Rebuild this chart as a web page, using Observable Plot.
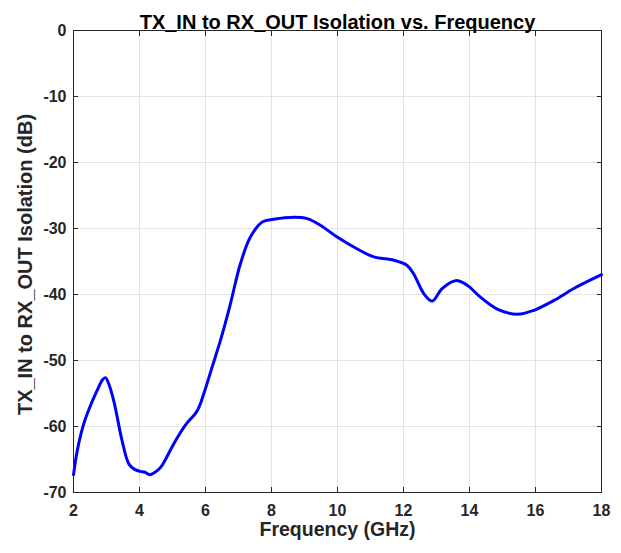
<!DOCTYPE html>
<html>
<head>
<meta charset="utf-8">
<script src="https://cdn.jsdelivr.net/npm/d3@7"></script>
<script src="https://cdn.jsdelivr.net/npm/@observablehq/plot@0.6"></script>
<style>
  html, body { margin: 0; padding: 0; background: #fff; }
  #chart svg { display: block; }
</style>
</head>
<body>
<div id="chart"></div>
<script>
// Measured isolation between TX_IN and RX_OUT ports
const freqGHz = [2.0, 2.12, 2.31, 2.5, 2.72, 2.88, 2.97, 3.05, 3.22, 3.47, 3.68, 3.85, 4.03, 4.15, 4.31, 4.45, 4.64, 5.04, 5.39, 5.75, 5.95, 6.2, 6.45, 6.73, 7.06, 7.36, 7.72, 8.07, 8.68, 9.08, 9.48, 9.99, 10.6, 11.1, 11.71, 12.11, 12.31, 12.62, 12.87, 13.17, 13.58, 13.93, 14.33, 14.84, 15.45, 15.95, 16.56, 17.16, 18.0];
const isolationDb = [-67.3, -63.5, -59.6, -57.0, -54.5, -52.9, -52.6, -53.3, -56.1, -62.1, -65.7, -66.5, -66.8, -66.9, -67.3, -67.0, -66.2, -62.6, -59.8, -57.6, -55.0, -51.0, -47.0, -41.9, -35.3, -31.3, -29.0, -28.6, -28.3, -28.5, -29.5, -31.3, -33.1, -34.3, -34.8, -35.6, -36.9, -39.9, -41.0, -39.1, -37.9, -38.6, -40.4, -42.2, -43.0, -42.4, -40.9, -39.1, -37.0];

const xTicks = [2, 4, 6, 8, 10, 12, 14, 16, 18];
const yTicks = [0, -10, -20, -30, -40, -50, -60, -70];

const chartTitle = "TX_IN to RX_OUT Isolation vs. Frequency";
const xLabel = "Frequency (GHz)";
const yLabel = "TX_IN to RX_OUT Isolation (dB)";

const rows = freqGHz.map((f, i) => ({f, v: isolationDb[i]}));

const axisColor = "#262626";
const font = "'Liberation Sans', Arial, Helvetica, sans-serif";
const noLabel = () => "";
const plainNumber = (d) => String(d); // hyphen-minus, as in the tick labels

const plot = Plot.plot({
  width: 621,
  height: 553,
  marginLeft: 73,
  marginRight: 20,
  marginTop: 30,
  marginBottom: 61,
  style: {fontFamily: font, fontSize: "16px", fontWeight: "bold", color: axisColor, background: "#fff"},
  x: {domain: [2, 18], ticks: xTicks, label: null},
  y: {domain: [-70, 0], ticks: yTicks, label: null},
  marks: [
    Plot.gridX(xTicks, {stroke: "#e3e3e3", strokeOpacity: 1}),
    Plot.gridY(yTicks, {stroke: "#e3e3e3", strokeOpacity: 1}),
    Plot.line(rows, {x: "f", y: "v", stroke: "#0000ff", strokeWidth: 3, curve: "catmull-rom"}),
    Plot.frame({stroke: axisColor, strokeWidth: 1}),
    // inward ticks on all four sides; labels only on bottom and left
    Plot.axisX(xTicks, {anchor: "bottom", tickSize: -5, tickPadding: 17, tickFormat: plainNumber, label: null, fontSize: 16, fontWeight: "bold", color: axisColor}),
    Plot.axisX(xTicks, {anchor: "top", tickSize: -5, tickFormat: noLabel, label: null, color: axisColor}),
    Plot.axisY(yTicks, {anchor: "left", tickSize: -5, tickPadding: 12, tickFormat: plainNumber, label: null, fontSize: 16, fontWeight: "bold", color: axisColor}),
    Plot.axisY(yTicks, {anchor: "right", tickSize: -5, tickFormat: noLabel, label: null, color: axisColor}),
    Plot.text([chartTitle], {frameAnchor: "top", dy: -16, fontSize: 20, fontWeight: "bold", fill: "#000"}),
    Plot.text([xLabel], {frameAnchor: "bottom", dy: 43, fontSize: 19.5, fontWeight: "bold", fill: axisColor}),
    Plot.text([yLabel], {frameAnchor: "left", textAnchor: "middle", lineAnchor: "middle", dx: -48, dy: 3, rotate: -90, fontSize: 20, fontWeight: "bold", fill: axisColor})
  ]
});

document.getElementById("chart").appendChild(plot);
</script>
</body>
</html>
